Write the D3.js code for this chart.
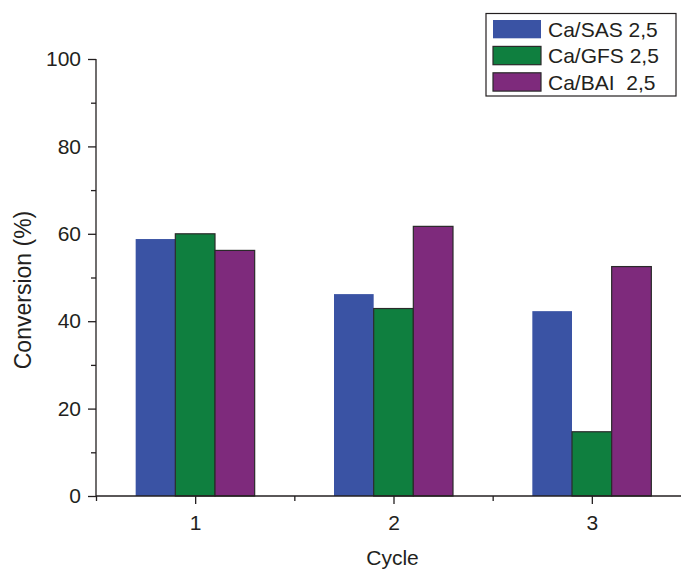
<!DOCTYPE html>
<html><head><meta charset="utf-8">
<script src="https://cdn.jsdelivr.net/npm/d3@7"></script>
<style>body{margin:0;background:#fff}svg{display:block}text{font-family:"Liberation Sans",Arial,sans-serif;fill:#231f20}</style>
</head><body><div id="chart"></div>
<script>
const cycles = [1, 2, 3];
const seriesNames = ["Ca/SAS 2,5", "Ca/GFS 2,5", "Ca/BAI  2,5"];
const sasValues = [58.8, 46.2, 42.3];
const gfsValues = [60.0, 42.9, 14.7];
const baiValues = [56.2, 61.7, 52.5];
const yTicks = [0, 20, 40, 60, 80, 100];
const colors = ["#3a53a4", "#0f7f3f", "#7e2a7c"];
const strokes = ["none", "#2a2a2a", "#2a2a2a"];

const W = 681, H = 571;
const FONT = '"Liberation Sans",Arial,sans-serif';
const svg = d3.select("#chart").append("svg").attr("width", W).attr("height", H);
const x = d3.scaleLinear().domain([0.5, 3.5]).range([96, 691]);
const y = d3.scaleLinear().domain([0, 100]).range([496, 59]);
const series = [sasValues, gfsValues, baiValues];
const barW = 0.2;

series.forEach((vals, si) => {
  svg.append("g").selectAll("rect").data(cycles).join("rect")
    .attr("x", (c) => x(c - 0.3 + si * barW))
    .attr("width", x(barW) - x(0))
    .attr("y", (c, i) => y(vals[i]))
    .attr("height", (c, i) => y(0) - y(vals[i]))
    .attr("fill", colors[si])
    .attr("stroke", strokes[si])
    .attr("stroke-width", 1.2);
});

// Y axis
const yAxis = svg.append("g").attr("transform", "translate(96,0)")
  .call(d3.axisLeft(y).tickValues(yTicks).tickSize(8).tickPadding(7).tickFormat(d3.format("d")));
svg.append("g").attr("transform", "translate(96,0)")
  .call(d3.axisLeft(y).tickValues([10, 30, 50, 70, 90]).tickSize(5).tickFormat(""))
  .select(".domain").remove();
// X axis
const xAxis = svg.append("g").attr("transform", "translate(0,496)")
  .call(d3.axisBottom(x).tickValues(cycles).tickSize(8).tickPadding(11).tickFormat(d3.format("d")));
svg.append("g").attr("transform", "translate(0,496)")
  .call(d3.axisBottom(x).tickValues([0.5, 1.5, 2.5]).tickSize(5).tickFormat(""))
  .select(".domain").remove();
svg.selectAll(".domain").attr("stroke", "#231f20").attr("stroke-width", 1.3);
svg.selectAll(".tick line").attr("stroke", "#231f20").attr("stroke-width", 1.3);
svg.selectAll(".tick text").style("font-size", "21px").style("font-family", FONT).attr("fill", "#231f20");
yAxis.selectAll(".domain").attr("d", "M0,496V59");
xAxis.selectAll(".domain").attr("d", "M96,0H691");

svg.append("text").attr("x", 392.5).attr("y", 565).attr("text-anchor", "middle")
  .style("font-size", "21px").text("Cycle");
svg.append("text").attr("transform", "translate(31,290) rotate(-90)").attr("text-anchor", "middle")
  .style("font-size", "23px").text("Conversion (%)");

// Legend
const lg = svg.append("g");
lg.append("rect").attr("x", 486).attr("y", 13.5).attr("width", 190).attr("height", 82.5)
  .attr("fill", "#fff").attr("stroke", "#231f20").attr("stroke-width", 1.2);
seriesNames.forEach((n, i) => {
  const yy = 20 + i * 26.4;
  lg.append("rect").attr("x", 493).attr("y", yy).attr("width", 48).attr("height", 18.3)
    .attr("fill", colors[i]).attr("stroke", strokes[i]).attr("stroke-width", 1.2);
  lg.append("text").attr("x", 548).attr("y", yy + 17).style("font-size", "21px")
    .attr("xml:space", "preserve").style("white-space", "pre").text(n);
});
</script></body></html>
